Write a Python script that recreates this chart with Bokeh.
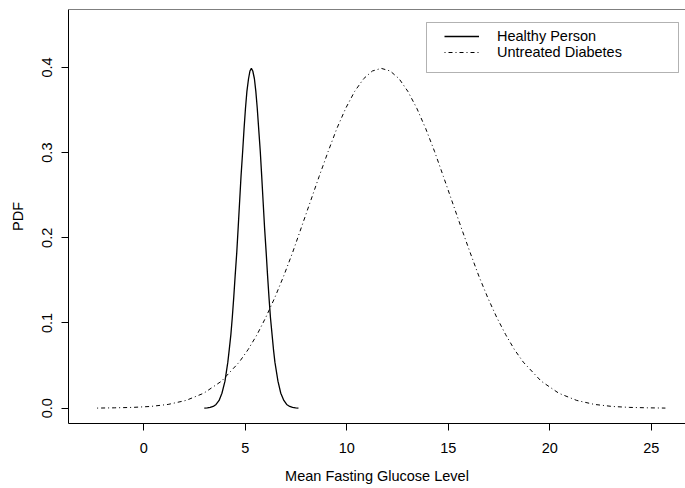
from bokeh.plotting import figure
from bokeh.models import (Range1d, Span, Legend, LegendItem, BoxAnnotation,
                          FixedTicker, NumeralTickFormatter)
from bokeh.embed import file_html
from bokeh.resources import INLINE

# ---- data ----
healthy_x = [2.98, 3.13, 3.27, 3.42, 3.56, 3.71, 3.85, 4.0, 4.14, 4.21, 4.29,
             4.36, 4.43, 4.5, 4.58, 4.65, 4.72, 4.79, 4.87, 4.94, 5.01, 5.08,
             5.16, 5.23, 5.3, 5.37, 5.45, 5.52, 5.59, 5.66, 5.74, 5.81, 5.88,
             5.95, 6.03, 6.1, 6.17, 6.24, 6.32, 6.39, 6.46, 6.61, 6.75, 6.9,
             7.04, 7.19, 7.33, 7.48, 7.62]
healthy_y = [0.0001, 0.0004, 0.0009, 0.002, 0.0044, 0.0091, 0.0175, 0.0317,
             0.054, 0.0688, 0.0863, 0.1065, 0.1295, 0.155, 0.1826, 0.2119,
             0.242, 0.2721, 0.3011, 0.3282, 0.3521, 0.3719, 0.3867, 0.3958,
             0.3989, 0.3958, 0.3867, 0.3719, 0.3521, 0.3282, 0.3011, 0.2721,
             0.242, 0.2119, 0.1826, 0.155, 0.1295, 0.1065, 0.0863, 0.0688,
             0.054, 0.0317, 0.0175, 0.0091, 0.0044, 0.002, 0.0009, 0.0004,
             0.0001]
diabetes_x = [-2.3, -1.43, -0.55, 0.33, 1.2, 2.08, 2.95, 3.83, 4.7, 5.14, 5.58,
              6.01, 6.45, 6.89, 7.33, 7.76, 8.2, 8.64, 9.08, 9.51, 9.95, 10.39,
              10.83, 11.26, 11.7, 12.14, 12.58, 13.01, 13.45, 13.89, 14.33,
              14.76, 15.2, 15.64, 16.08, 16.51, 16.95, 17.39, 17.83, 18.26,
              18.7, 19.58, 20.45, 21.33, 22.2, 23.08, 23.95, 24.83, 25.7]
diabetes_y = [0.0001, 0.0004, 0.0009, 0.002, 0.0044, 0.0091, 0.0175, 0.0317,
              0.054, 0.0688, 0.0863, 0.1065, 0.1295, 0.155, 0.1826, 0.2119,
              0.242, 0.2721, 0.3011, 0.3282, 0.3521, 0.3719, 0.3867, 0.3958,
              0.3989, 0.3958, 0.3867, 0.3719, 0.3521, 0.3282, 0.3011, 0.2721,
              0.242, 0.2119, 0.1826, 0.155, 0.1295, 0.1065, 0.0863, 0.0688,
              0.054, 0.0317, 0.0175, 0.0091, 0.0044, 0.002, 0.0009, 0.0004,
              0.0001]
series_names = ["Healthy Person", "Untreated Diabetes"]
x_ticks = [0, 5, 10, 15, 20, 25]
y_ticks = [0.0, 0.1, 0.2, 0.3, 0.4]
x_label = "Mean Fasting Glucose Level"
y_label = "PDF"

FONT = "Liberation Sans"
FS = "14.5px"

p = figure(width=685, height=488, output_backend="svg", toolbar_location=None,
           x_range=Range1d(-3.71, 26.69), y_range=Range1d(-0.018, 0.468),
           min_border_left=68, min_border_right=0, min_border_top=9,
           min_border_bottom=65)
p.outline_line_color = None
p.background_fill_color = "white"
p.border_fill_color = "white"
p.xgrid.visible = False
p.ygrid.visible = False

r1 = p.line(healthy_x, healthy_y, line_color="black", line_width=1.3)
r2 = p.line(diabetes_x, diabetes_y, line_color="black", line_width=1,
            line_dash="1 3 4 3")

for ax in (p.xaxis[0], p.yaxis[0]):
    ax.axis_line_color = "black"
    ax.axis_line_width = 1
    ax.major_tick_line_color = "black"
    ax.major_tick_out = 7
    ax.major_tick_in = 0
    ax.minor_tick_line_color = None
    ax.major_label_text_font = FONT
    ax.major_label_text_font_size = FS
    ax.major_label_text_color = "black"
    ax.axis_label_text_font = FONT
    ax.axis_label_text_font_size = FS
    ax.axis_label_text_font_style = "normal"
    ax.axis_label_text_color = "black"

p.xaxis.ticker = FixedTicker(ticks=x_ticks)
p.xaxis.formatter = NumeralTickFormatter(format="0")
p.xaxis.major_label_standoff = 12
p.xaxis.axis_label = x_label
p.xaxis.axis_label_standoff = 12

p.yaxis.ticker = FixedTicker(ticks=y_ticks)
p.yaxis.formatter = NumeralTickFormatter(format="0.0")
p.yaxis.major_label_orientation = "vertical"
p.yaxis.major_label_standoff = 9
p.yaxis.axis_label = y_label
p.yaxis.axis_label_standoff = 14

# top border of the box
p.add_layout(Span(location=0.468, dimension="width", line_color="black",
                  line_width=1))

# legend frame
p.add_layout(BoxAnnotation(left=358, right=610, bottom=351, top=401,
                           left_units="screen", right_units="screen",
                           bottom_units="screen", top_units="screen",
                           fill_alpha=0, line_color="black", line_width=1))

legend = Legend(items=[LegendItem(label=series_names[0], renderers=[r1]),
                       LegendItem(label=series_names[1], renderers=[r2])],
                location=(376, 363), padding=0, margin=0, spacing=0,
                glyph_width=35, glyph_height=14, label_height=14,
                label_standoff=18, border_line_color=None,
                background_fill_alpha=0, label_text_font=FONT,
                label_text_font_size=FS, label_text_color="black")
p.add_layout(legend)

open("out.html", "w").write(file_html(p, INLINE))
